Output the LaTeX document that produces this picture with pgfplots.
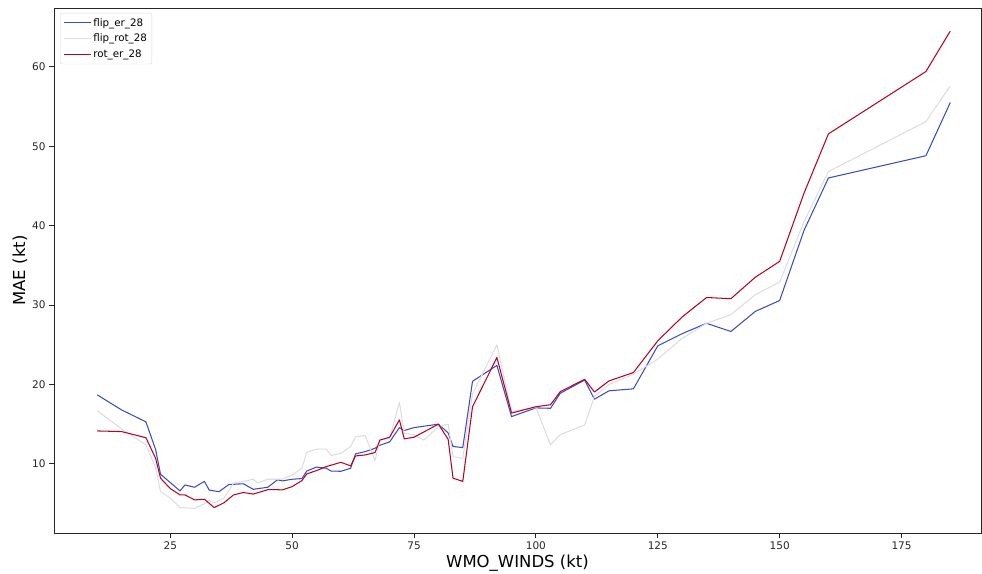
\documentclass[border=0pt]{standalone}
\usepackage{fontspec}
\setmainfont{DejaVu Sans}
\usepackage{pgfplots}
\pgfplotsset{compat=1.18}
\definecolor{cwblue}{RGB}{59,76,192}
\definecolor{cwgray}{RGB}{221,221,221}
\definecolor{cwred}{RGB}{180,4,38}
\begin{document}
\begin{tikzpicture}
\begin{axis}[
  name=ax,
  scale only axis,
  width=927pt, height=525pt,
  xmin=1.15, xmax=191.3, ymin=1.3, ymax=67.4,
  xtick={25,50,75,100,125,150,175},
  ytick={10,20,30,40,50,60},
  tick align=outside, tick pos=left,
  major tick length=5pt,
  tick style={black!85, line width=0.9pt},
  axis line style={black!85, line width=0.9pt},
  ticklabel style={font=\fontsize{10.5}{12}\selectfont, text=black!85},
  /pgf/number format/assume math mode=true,
  xlabel={WMO\_WINDS (kt)}, ylabel={MAE (kt)},
  label style={font=\fontsize{16.5}{20}\selectfont},
  xlabel style={at={(axis description cs:0.5,-0.0571)}, anchor=center},
  ylabel style={at={(axis description cs:-0.0367,0.5)}, anchor=center},
  legend style={at={(0.0065,0.9905)}, anchor=north west, draw=black!15,
    rounded corners=2pt, font=\fontsize{10.3}{12}\selectfont,
    inner sep=3pt, row sep=2.5pt},
  legend cell align=left,
  legend image code/.code={\path (0pt,0pt) -- (27pt,0pt);\draw[#1, line width=1.1pt] (0pt,0pt) -- (21pt,0pt);},
  every axis plot/.append style={line width=1.05pt, line join=round},
]
\addplot[cwblue, mark=none] coordinates {
(10,18.7) (15,16.8) (20,15.3) (22,11.8) (23,8.7) (27,6.6) (28,7.35) (30,7.06)
(32,7.8) (33,6.7) (35,6.5) (37,7.4) (40,7.5) (42,6.8) (45,7.06) (47,8.0)
(48,7.86) (50,8.07) (52,8.15) (53,9.1) (55,9.6) (57,9.45) (58,9.1) (60,9.07)
(62,9.45) (63,11.26) (65,11.55) (67,11.97) (68,12.35) (70,12.77) (72,14.57)
(73,14.2) (75,14.57) (80,15.0) (82,13.9) (83,12.2) (85,12.05) (87,20.4)
(92,22.4) (95,15.96) (100,17.05) (103,17.0) (105,18.9) (110,20.55) (112,18.15)
(115,19.2) (120,19.45) (125,24.86) (130,26.4) (135,27.7) (140,26.67)
(145,29.2) (150,30.57) (155,39.4) (160,46.0) (180,48.8) (185,55.5)
};
\addlegendentry{flip\_er\_28}
\addplot[cwgray, mark=none] coordinates {
(10,16.7) (15,14.4) (20,12.4) (22,9.5) (23,6.5) (25,5.7) (27,4.5) (30,4.4)
(32,5.0) (33,5.4) (34,5.1) (36,5.7) (38,7.6) (40,7.8) (42,8.07) (43,7.6)
(45,8.07) (47,8.07) (48,8.1) (50,8.6) (52,9.45) (53,11.47) (55,11.85)
(57,11.85) (58,11.05) (60,11.34) (62,12.18) (63,13.44) (65,13.57) (67,10.42)
(68,13.0) (70,13.23) (72,17.77) (73,13.86) (75,13.65) (77,13.0) (80,14.7)
(82,15.0) (83,10.9) (85,10.7) (87,18.8) (92,25.0) (95,16.6) (100,17.1)
(103,12.4) (105,13.7) (110,14.9) (112,18.5) (115,20.0) (120,21.3) (125,23.2)
(130,25.8) (135,27.7) (140,28.8) (145,31.3) (150,32.9) (155,40.5) (160,46.8)
(180,53.1) (185,57.6)
};
\addlegendentry{flip\_rot\_28}
\addplot[cwred, mark=none] coordinates {
(10,14.15) (15,14.07) (20,13.3) (22,10.7) (23,8.2) (25,6.9) (27,6.1) (28,6.1)
(30,5.47) (32,5.55) (34,4.5) (36,5.1) (38,6.1) (40,6.4) (42,6.2) (45,6.75)
(47,6.75) (48,6.73) (50,7.14) (52,7.9) (53,8.74) (55,9.16) (57,9.66) (60,10.2)
(62,9.75) (63,11.0) (65,11.13) (67,11.43) (68,13.0) (70,13.36) (72,15.54)
(73,13.15) (75,13.36) (80,15.0) (82,13.1) (83,8.2) (85,7.8) (87,17.2)
(92,23.4) (95,16.4) (100,17.2) (103,17.45) (105,19.1) (110,20.65) (112,19.05)
(115,20.45) (120,21.5) (125,25.5) (130,28.5) (135,30.95) (140,30.8)
(145,33.5) (150,35.5) (155,44.1) (160,51.55) (180,59.4) (185,64.5)
};
\addlegendentry{rot\_er\_28}
\end{axis}
\pgfresetboundingbox
\path[use as bounding box] ([xshift=-54pt,yshift=-40pt]ax.south west) rectangle ([xshift=1pt,yshift=8pt]ax.north east);
\end{tikzpicture}
\end{document}
